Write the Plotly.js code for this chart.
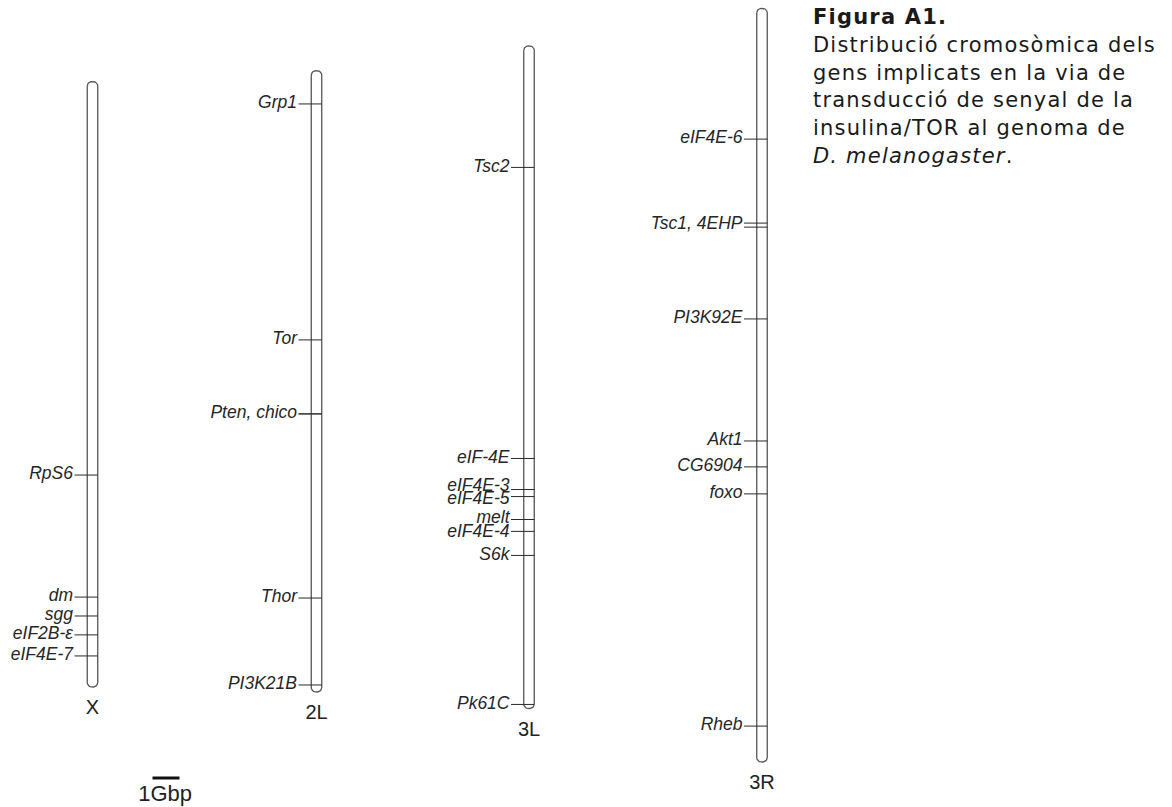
<!DOCTYPE html>
<html><head><meta charset="utf-8">
<script src="https://cdn.plot.ly/plotly-3.0.1.min.js"></script>
<style>
html,body{margin:0;padding:0;background:#fff;}
#chart{width:1172px;height:807px;}
.annotation-text{letter-spacing:1.2px;}
</style>
</head><body><div id="chart"></div>
<script>
// ---- Data (positions in Mb, measured from the lower end of each arm) ----
const chromosomes = ['X', '2L', '3L', '3R'];
const chromLengths = [22.42, 23.01, 24.54, 27.91];

const genesX = ['RpS6', 'dm', 'sgg', 'eIF2B-ε', 'eIF4E-7'];
const posX   = [7.85, 3.33, 2.63, 1.93, 1.15];

const genes2L = ['Grp1', 'Tor', 'Pten', 'chico', 'Thor', 'PI3K21B'];
const pos2L   = [21.78, 13.04, 10.30, 10.30, 3.48, 0.26];

const genes3L = ['Tsc2', 'eIF-4E', 'eIF4E-3', 'eIF4E-5', 'melt', 'eIF4E-4', 'S6k', 'Pk61C'];
const pos3L   = [20.04, 9.26, 8.11, 7.85, 7.00, 6.56, 5.67, 0.15];

const genes3R = ['eIF4E-6', 'Tsc1', '4EHP', 'PI3K92E', 'Akt1', 'CG6904', 'foxo', 'Rheb'];
const pos3R   = [23.07, 19.96, 19.81, 16.41, 11.89, 10.93, 9.93, 1.33];

const scaleBarMb = 1;
const scaleBarLabel = '1Gbp';

const titleLines = [
  '<b>Figura A1.</b>',
  'Distribució cromosòmica dels',
  'gens implicats en la via de',
  'transducció de senyal de la',
  'insulina/TOR al genoma de',
  '<i>D. melanogaster</i>.'
];

// ---- Layout configuration (pixels) ----
const W = 1172, H = 807, K = 27; // px per Mb
const cfg = {
  centerPx: [92.5, 316.5, 529, 762],
  bottomPx: [687, 692, 708.5, 762],
  widthPx: 10.5,
  cornerPx: 4.5,
  tickLeftPx: 18,
  labelGapPx: 19.5,
  nameOffsetPx: 22,
  minLabelGapPx: 13.5,
  scaleBarLeftPx: 152.5,
  scaleBarYPx: 778,
  scaleLabelYPx: 795,
  titleXPx: 812,
  titleBaselinePx: 30,
  titleLineStepPx: 27.8,
  titleFontPx: 21
};

const geneSets = [[genesX, posX], [genes2L, pos2L], [genes3L, pos3L], [genes3R, pos3R]];

const px2x = p => p / K;
const px2y = p => (H - p) / K;

const traces = [];
const outlineColor = '#555555';

// Chromosome outlines
chromosomes.forEach((c, i) => {
  const cx = px2x(cfg.centerPx[i]);
  const hw = cfg.widthPx / 2 / K;
  const r = cfg.cornerPx / K;
  const y0 = px2y(cfg.bottomPx[i]);
  const y1 = y0 + chromLengths[i];
  const xs = [], ys = [];
  const arc = (ccx, ccy, a0, a1) => {
    const n = 8;
    for (let j = 0; j <= n; j++) {
      const a = a0 + (a1 - a0) * j / n;
      xs.push(ccx + r * Math.cos(a));
      ys.push(ccy + r * Math.sin(a));
    }
  };
  arc(cx - hw + r, y1 - r, Math.PI, Math.PI / 2);
  arc(cx + hw - r, y1 - r, Math.PI / 2, 0);
  arc(cx + hw - r, y0 + r, 0, -Math.PI / 2);
  arc(cx - hw + r, y0 + r, -Math.PI / 2, -Math.PI);
  xs.push(xs[0]); ys.push(ys[0]);
  traces.push({
    type: 'scatter', mode: 'lines', x: xs, y: ys,
    fill: 'toself', fillcolor: '#ffffff',
    line: {color: outlineColor, width: 1.3},
    hoverinfo: 'skip', showlegend: false
  });
});

// Gene ticks
const tx = [], ty = [];
geneSets.forEach(([names, pos], i) => {
  const y0 = px2y(cfg.bottomPx[i]);
  const xl = px2x(cfg.centerPx[i] - cfg.tickLeftPx);
  const xr = px2x(cfg.centerPx[i] + cfg.widthPx / 2);
  pos.forEach(p => {
    tx.push(xl, xr, null);
    ty.push(y0 + p, y0 + p, null);
  });
});
traces.push({
  type: 'scatter', mode: 'lines', x: tx, y: ty,
  line: {color: '#2a2a2a', width: 1},
  hoverinfo: 'skip', showlegend: false
});

// Gene labels (merge genes at ~same locus, then avoid overlaps)
const lx = [], ly = [], lt = [];
geneSets.forEach(([names, pos], i) => {
  const y0 = px2y(cfg.bottomPx[i]);
  const items = names.map((n, j) => ({n, p: pos[j]})).sort((a, b) => b.p - a.p);
  const groups = [];
  items.forEach(it => {
    const g = groups[groups.length - 1];
    if (g && Math.abs(g.last - it.p) < 0.2) { g.names.push(it.n); g.sum += it.p; g.cnt++; g.last = it.p; }
    else groups.push({names: [it.n], sum: it.p, cnt: 1, last: it.p});
  });
  const labs = groups.map(g => ({t: g.names.join(', '), y: g.sum / g.cnt}));
  const minGap = cfg.minLabelGapPx / K;
  for (let j = 1; j < labs.length; j++) {
    const d = labs[j - 1].y - labs[j].y;
    if (d < minGap) {
      const s = (minGap - d) / 2;
      labs[j - 1].y += s; labs[j].y -= s;
    }
  }
  labs.forEach(l => {
    lx.push(px2x(cfg.centerPx[i] - cfg.labelGapPx));
    ly.push(y0 + l.y);
    lt.push(l.t);
  });
});
traces.push({
  type: 'scatter', mode: 'text', x: lx, y: ly, text: lt,
  textposition: 'middle left',
  textfont: {family: 'Liberation Sans, Arial, sans-serif', size: 17.5, style: 'italic', color: '#262626'},
  hoverinfo: 'skip', showlegend: false
});

// Chromosome names
traces.push({
  type: 'scatter', mode: 'text',
  x: cfg.centerPx.map(px2x),
  y: cfg.bottomPx.map(b => px2y(b + cfg.nameOffsetPx)),
  text: chromosomes,
  textposition: 'middle center',
  textfont: {family: 'Liberation Sans, Arial, sans-serif', size: 20, color: '#222'},
  hoverinfo: 'skip', showlegend: false
});

// Scale bar
const sbx0 = px2x(cfg.scaleBarLeftPx);
traces.push({
  type: 'scatter', mode: 'lines',
  x: [sbx0, sbx0 + scaleBarMb], y: [px2y(cfg.scaleBarYPx), px2y(cfg.scaleBarYPx)],
  line: {color: '#111', width: 3},
  hoverinfo: 'skip', showlegend: false
});
traces.push({
  type: 'scatter', mode: 'text',
  x: [sbx0 + scaleBarMb / 2 - 0.03], y: [px2y(cfg.scaleLabelYPx)],
  text: [scaleBarLabel], textposition: 'middle center',
  textfont: {family: 'Liberation Sans, Arial, sans-serif', size: 22, color: '#222'},
  hoverinfo: 'skip', showlegend: false
});

// Title annotations
const annotations = titleLines.map((t, i) => ({
  text: t, xref: 'paper', yref: 'paper',
  x: cfg.titleXPx / W, xanchor: 'left',
  y: 1 - (cfg.titleBaselinePx + i * cfg.titleLineStepPx) / H, yanchor: 'bottom',
  showarrow: false, align: 'left',
  font: {family: 'DejaVu Sans, Verdana, sans-serif', size: cfg.titleFontPx, color: '#1a1a1a'},
  borderpad: 0
}));

const layout = {
  width: W, height: H,
  margin: {l: 0, r: 0, t: 0, b: 0, pad: 0},
  paper_bgcolor: '#ffffff', plot_bgcolor: '#ffffff',
  showlegend: false,
  xaxis: {range: [0, W / K], visible: false, fixedrange: true},
  yaxis: {range: [0, H / K], visible: false, fixedrange: true},
  annotations
};

Plotly.newPlot('chart', traces, layout, {staticPlot: true, displayModeBar: false});
</script>
</body></html>
